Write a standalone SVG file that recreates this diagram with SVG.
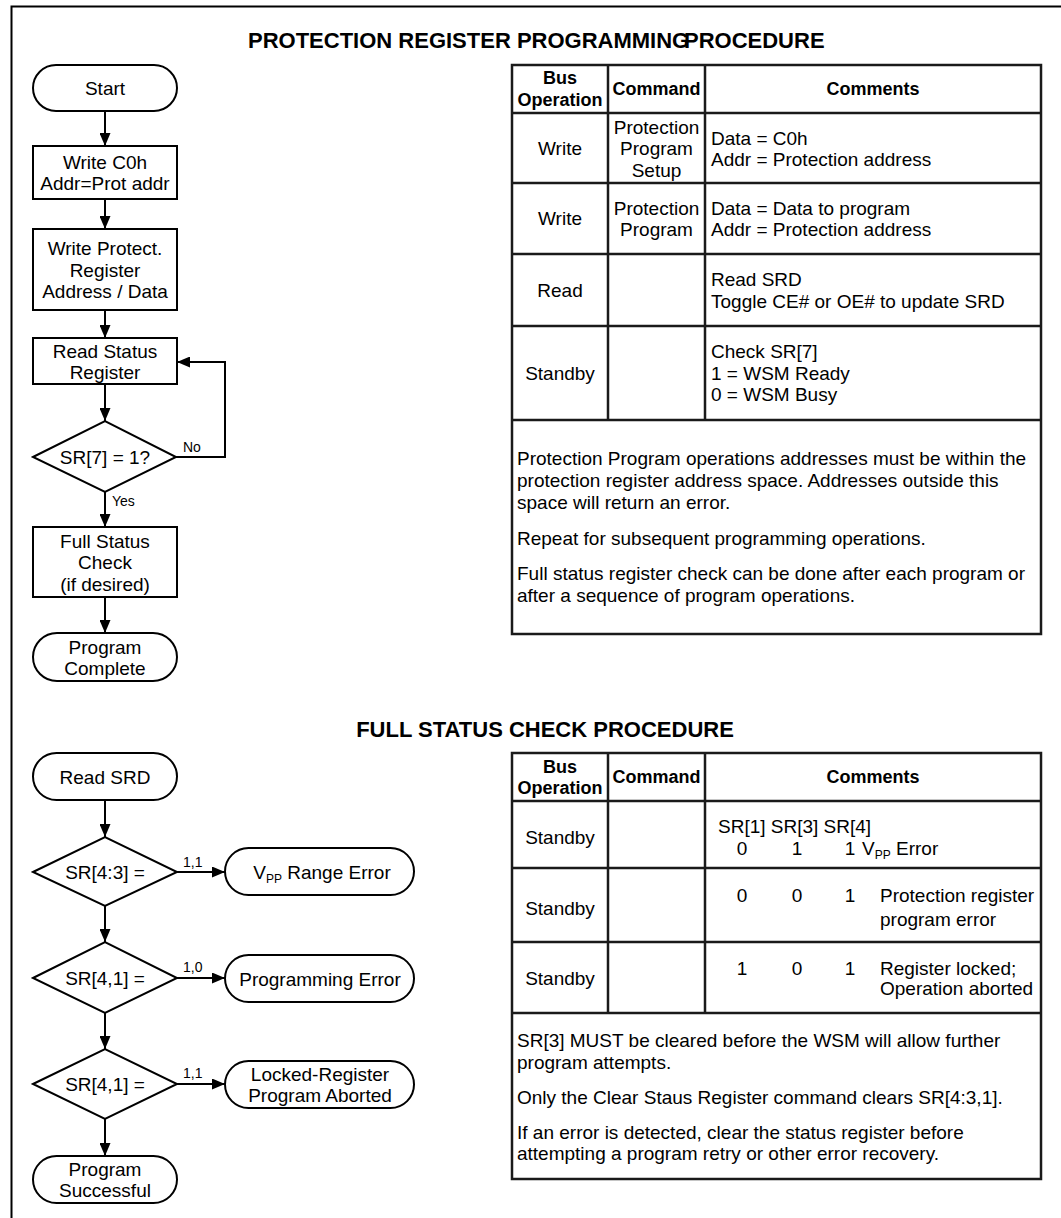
<svg xmlns="http://www.w3.org/2000/svg" width="1061" height="1218" viewBox="0 0 1061 1218">
<defs>
<marker id="arr" markerUnits="userSpaceOnUse" markerWidth="13" markerHeight="11" refX="13" refY="5.5" orient="auto"><path d="M0,0 L13,5.5 L0,11 z" fill="#000"/></marker>
<style>
text{font-family:"Liberation Sans",Arial,Helvetica,sans-serif;fill:#000}
.t{font-size:19px}
.c{text-anchor:middle}
.h{font-size:18px;font-weight:bold}
.ttl{font-size:22px;font-weight:bold}
.lbl{font-size:14px}
.sub{font-size:12px}
.shp{fill:#fff;stroke:#000;stroke-width:2}
.con{fill:none;stroke:#000;stroke-width:2;marker-end:url(#arr)}
.tb{fill:#fff;stroke:#1a1a1a;stroke-width:2.5}
.tl{stroke:#1a1a1a;stroke-width:2.5}
</style>
</defs>
<rect x="0" y="0" width="1061" height="1218" fill="#fff"/>
<path d="M11.5,1218 V6.5 H1061" fill="none" stroke="#000" stroke-width="2"/>

<g id="titles">
<text class="ttl" x="248" y="48">PROTECTION REGISTER PROGRAMMING</text>
<text class="ttl" x="684" y="48">PROCEDURE</text>
<text class="ttl c" x="545" y="737">FULL STATUS CHECK PROCEDURE</text>
</g>

<g id="connectors">
<path class="con" d="M105,111 V146"/>
<path class="con" d="M105,199 V229"/>
<path class="con" d="M105,310 V338"/>
<path class="con" d="M105,384 V421"/>
<path class="con" d="M176,457 H225 V362 H177"/>
<path class="con" d="M105,492 V527"/>
<path class="con" d="M105,597 V633"/>
<path class="con" d="M105,800 V837"/>
<path class="con" d="M177,872 H225"/>
<path class="con" d="M105,906 V942"/>
<path class="con" d="M177,978 H225"/>
<path class="con" d="M105,1013 V1049"/>
<path class="con" d="M177,1084 H225"/>
<path class="con" d="M105,1119 V1156"/>
<text class="lbl" x="183" y="452">No</text>
<text class="lbl" x="112" y="506">Yes</text>
<text class="lbl" x="183" y="867">1,1</text>
<text class="lbl" x="183" y="972">1,0</text>
<text class="lbl" x="183" y="1078">1,1</text>
</g>

<g id="start">
<rect class="shp" x="33" y="65" width="144" height="46" rx="23" ry="23"/>
<text class="t c" x="105" y="95">Start</text>
</g>
<g id="write-c0h">
<rect class="shp" x="33" y="146" width="144" height="53"/>
<text class="t c" x="105" y="169">Write C0h</text>
<text class="t c" x="105" y="190">Addr=Prot addr</text>
</g>
<g id="write-protect">
<rect class="shp" x="33" y="229" width="144" height="81"/>
<text class="t c" x="105" y="255">Write Protect.</text>
<text class="t c" x="105" y="276.5">Register</text>
<text class="t c" x="105" y="298">Address / Data</text>
</g>
<g id="read-status">
<rect class="shp" x="33" y="338" width="144" height="46"/>
<text class="t c" x="105" y="357.5">Read Status</text>
<text class="t c" x="105" y="378.5">Register</text>
</g>
<g id="sr7">
<polygon class="shp" points="33,457 105,421 176,457 105,492"/>
<text class="t c" x="105" y="464">SR[7] = 1?</text>
</g>
<g id="full-status">
<rect class="shp" x="33" y="527" width="144" height="70"/>
<text class="t c" x="105" y="547.5">Full Status</text>
<text class="t c" x="105" y="569">Check</text>
<text class="t c" x="105" y="590.5">(if desired)</text>
</g>
<g id="program-complete">
<rect class="shp" x="33" y="633" width="144" height="48" rx="24" ry="24"/>
<text class="t c" x="105" y="653.5">Program</text>
<text class="t c" x="105" y="674.5">Complete</text>
</g>

<g id="read-srd">
<rect class="shp" x="33" y="753" width="144" height="47" rx="23.5" ry="23.5"/>
<text class="t c" x="105" y="783.5">Read SRD</text>
</g>
<g id="sr43">
<polygon class="shp" points="33,872 105,837 177,872 105,906"/>
<text class="t c" x="105" y="879">SR[4:3] =</text>
</g>
<g id="vpp-error">
<rect class="shp" x="225" y="848" width="189" height="47" rx="23.5" ry="23.5"/>
<text class="t c" x="322" y="879">V<tspan class="sub" dy="4">PP</tspan><tspan dy="-4"> Range Error</tspan></text>
</g>
<g id="sr41a">
<polygon class="shp" points="33,978 105,942 177,978 105,1013"/>
<text class="t c" x="105" y="985">SR[4,1] =</text>
</g>
<g id="prog-error">
<rect class="shp" x="225" y="955" width="189" height="47" rx="23.5" ry="23.5"/>
<text class="t c" x="320" y="985.5">Programming Error</text>
</g>
<g id="sr41b">
<polygon class="shp" points="33,1084 105,1049 177,1084 105,1119"/>
<text class="t c" x="105" y="1091">SR[4,1] =</text>
</g>
<g id="locked">
<rect class="shp" x="225" y="1061" width="189" height="47" rx="23.5" ry="23.5"/>
<text class="t c" x="320" y="1081">Locked-Register</text>
<text class="t c" x="320" y="1102">Program Aborted</text>
</g>
<g id="program-successful">
<rect class="shp" x="33" y="1156" width="144" height="47" rx="23.5" ry="23.5"/>
<text class="t c" x="105" y="1176">Program</text>
<text class="t c" x="105" y="1197">Successful</text>
</g>

<g id="table-protection">
<rect class="tb" x="512" y="65" width="529" height="569"/>
<line class="tl" x1="512" y1="113" x2="1041" y2="113"/>
<line class="tl" x1="512" y1="183" x2="1041" y2="183"/>
<line class="tl" x1="512" y1="254" x2="1041" y2="254"/>
<line class="tl" x1="512" y1="326" x2="1041" y2="326"/>
<line class="tl" x1="512" y1="420" x2="1041" y2="420"/>
<line class="tl" x1="608" y1="65" x2="608" y2="420"/>
<line class="tl" x1="705" y1="65" x2="705" y2="420"/>
<text class="h c" x="560" y="84">Bus</text>
<text class="h c" x="560" y="106">Operation</text>
<text class="h c" x="656.5" y="95">Command</text>
<text class="h c" x="873" y="95">Comments</text>
<text class="t c" x="560" y="155">Write</text>
<text class="t c" x="656.5" y="134">Protection</text>
<text class="t c" x="656.5" y="155">Program</text>
<text class="t c" x="656.5" y="177">Setup</text>
<text class="t" x="711" y="145">Data = C0h</text>
<text class="t" x="711" y="166">Addr = Protection address</text>
<text class="t c" x="560" y="225">Write</text>
<text class="t c" x="656.5" y="215">Protection</text>
<text class="t c" x="656.5" y="236">Program</text>
<text class="t" x="711" y="215">Data = Data to program</text>
<text class="t" x="711" y="236">Addr = Protection address</text>
<text class="t c" x="560" y="297">Read</text>
<text class="t" x="711" y="286">Read SRD</text>
<text class="t" x="711" y="308">Toggle CE# or OE# to update SRD</text>
<text class="t c" x="560" y="380">Standby</text>
<text class="t" x="711" y="358">Check SR[7]</text>
<text class="t" x="711" y="380">1 = WSM Ready</text>
<text class="t" x="711" y="401">0 = WSM Busy</text>
<text class="t" x="517" y="465">Protection Program operations addresses must be within the</text>
<text class="t" x="517" y="487">protection register address space.  Addresses outside this</text>
<text class="t" x="517" y="509">space will return an error.</text>
<text class="t" x="517" y="545">Repeat for subsequent programming operations.</text>
<text class="t" x="517" y="580">Full status register check can be done after each program or</text>
<text class="t" x="517" y="602">after a sequence of program operations.</text>
</g>

<g id="table-full-status">
<rect class="tb" x="512" y="753" width="529" height="426"/>
<line class="tl" x1="512" y1="801" x2="1041" y2="801"/>
<line class="tl" x1="512" y1="868" x2="1041" y2="868"/>
<line class="tl" x1="512" y1="942" x2="1041" y2="942"/>
<line class="tl" x1="512" y1="1013" x2="1041" y2="1013"/>
<line class="tl" x1="608" y1="753" x2="608" y2="1013"/>
<line class="tl" x1="705" y1="753" x2="705" y2="1013"/>
<text class="h c" x="560" y="773">Bus</text>
<text class="h c" x="560" y="794">Operation</text>
<text class="h c" x="656.5" y="783">Command</text>
<text class="h c" x="873" y="783">Comments</text>
<text class="t c" x="560" y="844">Standby</text>
<text class="t" x="718" y="833">SR[1] SR[3] SR[4]</text>
<text class="t c" x="742" y="855">0</text>
<text class="t c" x="797" y="855">1</text>
<text class="t c" x="850" y="855">1</text>
<text class="t" x="862" y="855">V<tspan class="sub" dy="4">PP</tspan><tspan dy="-4"> Error</tspan></text>
<text class="t c" x="560" y="915">Standby</text>
<text class="t c" x="742" y="902">0</text>
<text class="t c" x="797" y="902">0</text>
<text class="t c" x="850" y="902">1</text>
<text class="t" x="880" y="902">Protection register</text>
<text class="t" x="880" y="926">program error</text>
<text class="t c" x="560" y="985">Standby</text>
<text class="t c" x="742" y="975">1</text>
<text class="t c" x="797" y="975">0</text>
<text class="t c" x="850" y="975">1</text>
<text class="t" x="880" y="975">Register locked;</text>
<text class="t" x="880" y="995">Operation aborted</text>
<text class="t" x="517" y="1047">SR[3] MUST be cleared before the WSM will allow further</text>
<text class="t" x="517" y="1069">program attempts.</text>
<text class="t" x="517" y="1104">Only the Clear Staus Register command clears SR[4:3,1].</text>
<text class="t" x="517" y="1139">If an error is detected, clear the status register before</text>
<text class="t" x="517" y="1160">attempting a program retry or other error recovery.</text>
</g>
</svg>
